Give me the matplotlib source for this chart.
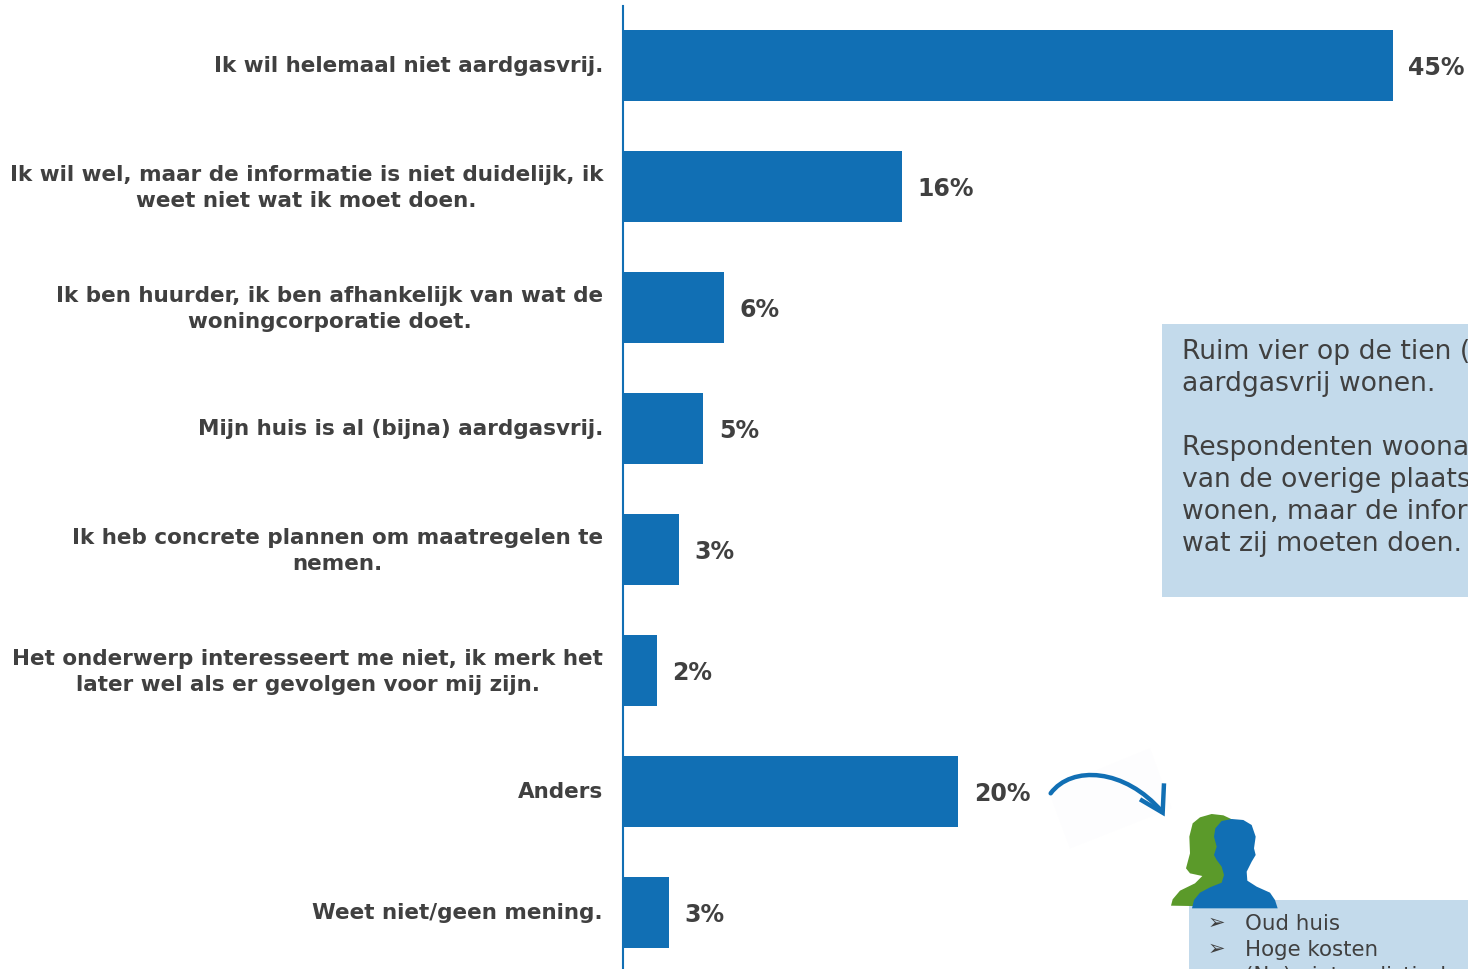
import matplotlib
matplotlib.use("Agg")
import matplotlib.pyplot as plt
from matplotlib.patches import PathPatch, Polygon, Rectangle
from matplotlib.path import Path
from matplotlib.transforms import ScaledTranslation

W, H = 1468, 969
BLUE = "#116FB4"
GREEN = "#5B9A2A"
BOX = "#C3DAEB"
DARK = "#404040"

categories = [
    "Ik wil helemaal niet aardgasvrij.",
    "Ik wil wel, maar de informatie is niet duidelijk, ik\nweet niet wat ik moet doen.",
    "Ik ben huurder, ik ben afhankelijk van wat de\nwoningcorporatie doet.",
    "Mijn huis is al (bijna) aardgasvrij.",
    "Ik heb concrete plannen om maatregelen te\nnemen.",
    "Het onderwerp interesseert me niet, ik merk het\nlater wel als er gevolgen voor mij zijn.",
    "Anders",
    "Weet niet/geen mening.",
]
# bar lengths (the printed labels are rounded)
values = [45.0, 16.3, 5.9, 4.7, 3.3, 2.0, 19.6, 2.7]

box_lines = [
    "Ruim vier op de tien (45%) wil helemaal niet",
    "aardgasvrij wonen.",
    "",
    "Respondenten woonachtig in Rotterdam wijken af",
    "van de overige plaatsen: zij willen vaker wel aardgasvrij",
    "wonen, maar de informatie is niet duidelijk, zij weten niet",
    "wat zij moeten doen.",
]
other_reasons = ["Oud huis", "Hoge kosten", "(Nu) niet realistisch"]

green_head = [(393, 497), (398, 478), (420, 452), (465, 430), (487, 408), (450, 400),
              (438, 385), (450, 340), (448, 290), (458, 250), (480, 232), (515, 222),
              (550, 226), (580, 240), (570, 500)]
blue_head = [(456, 505), (462, 480), (480, 458), (510, 442), (545, 428), (552, 405),
             (545, 380), (530, 360), (522, 345), (530, 320), (522, 290), (526, 265),
             (545, 243), (575, 237), (610, 240), (635, 255), (647, 290), (642, 325),
             (647, 345), (635, 365), (620, 395), (622, 422), (650, 440), (690, 458),
             (705, 480), (713, 505)]
arrow_back = [(25, 150), (330, 25), (395, 205), (90, 325)]
arrow_curve = [(32, 160), (95, 75), (255, 85), (366, 215)]
arrow_head = [(372, 130), (368, 218), (300, 178)]


def crop_px(points):
    return [(1040 + x / 3, 740 + y / 3) for x, y in points]


plt.rcParams["font.family"] = "DejaVu Sans"
fig = plt.figure(figsize=(W / 100, H / 100), dpi=100)

# main bar chart, placed so that the axis line sits at x=623
ax = fig.add_axes([623 / W, 0, 1 - 623 / W, 1 - 6 / H])
y_pos = list(range(len(values)))
bars = ax.barh(y_pos, values, height=71 / 121, color=BLUE)
ax.set_xlim(0, (W - 623) / 17.11)
ax.set_ylim(7 + 56 / 121, -60 / 121)
ax.set_yticks(y_pos)
ax.set_yticklabels(categories, fontsize=15.5, fontweight="bold", color=DARK,
                   multialignment="center", linespacing=1.39)
ax.tick_params(axis="y", length=0, pad=14.4)
for label in ax.get_yticklabels():
    # two-line labels sit a little higher than the single-line ones
    lift = 3 if "\n" in label.get_text() else 1.5
    label.set_transform(label.get_transform() + ScaledTranslation(0, lift / 72, fig.dpi_scale_trans))
ax.xaxis.set_visible(False)
for side in ["top", "right", "bottom"]:
    ax.spines[side].set_visible(False)
ax.spines["left"].set_color(BLUE)
ax.spines["left"].set_linewidth(1.5)
value_labels = ax.bar_label(bars, labels=[f"{v:.0f}%" for v in values], padding=11,
                            fontsize=17, fontweight="bold", color=DARK)
for label in value_labels:
    label.xyann = (label.xyann[0], label.xyann[1] - 1.5)

# overlay in pixel coordinates for the call-outs
over = fig.add_axes([0, 0, 1, 1], facecolor="none")
over.set_xlim(0, W)
over.set_ylim(H, 0)
over.axis("off")

over.add_patch(Rectangle((1162, 324), W - 1162, 273, color=BOX, lw=0))
for i, line in enumerate(box_lines):
    over.text(1182, 352 + i * 32, line, fontsize=19.2, color=DARK, va="center", clip_on=True)

over.add_patch(Rectangle((1189, 900), W - 1189, H - 900, color=BOX, lw=0))
for i, line in enumerate(other_reasons):
    over.text(1208, 923 + i * 26, "➢", fontsize=15, color=DARK, va="center", clip_on=True)
    over.text(1245, 924 + i * 26, line, fontsize=15.4, color=DARK, va="center", clip_on=True)

over.add_patch(Polygon(crop_px(arrow_back), color="#FDFDFE", lw=0, zorder=1))
over.add_patch(PathPatch(
    Path(crop_px(arrow_curve), [Path.MOVETO, Path.CURVE4, Path.CURVE4, Path.CURVE4]),
    fill=False, edgecolor=BLUE, lw=3.2, capstyle="round", zorder=2))
over.add_patch(PathPatch(
    Path(crop_px(arrow_head), [Path.MOVETO, Path.LINETO, Path.LINETO]),
    fill=False, edgecolor=BLUE, lw=3.2, joinstyle="miter", zorder=2))
over.add_patch(Polygon(crop_px(green_head), color=GREEN, lw=0, zorder=3))
over.add_patch(Polygon(crop_px(blue_head), color=BLUE, lw=0, zorder=4))

fig.savefig("out.png", dpi=100)
